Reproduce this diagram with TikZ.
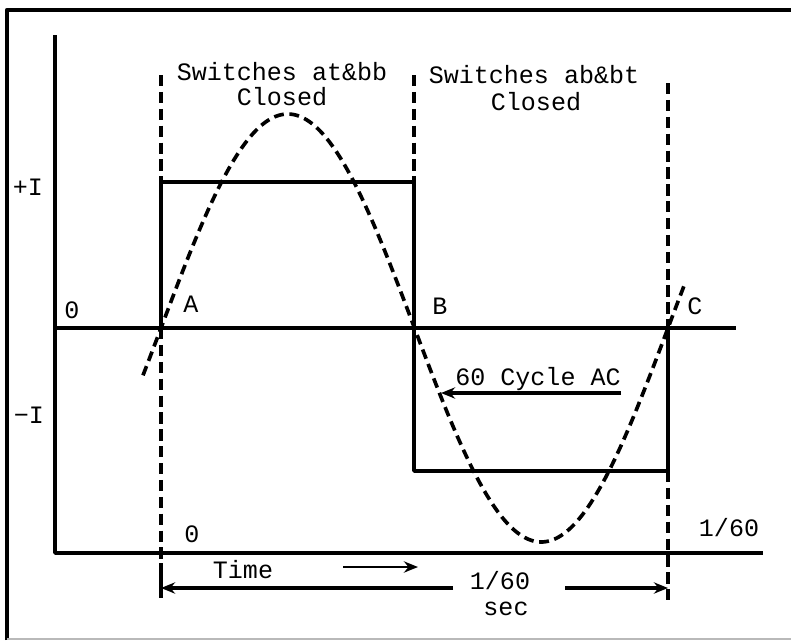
\documentclass[tikz,border=0pt]{standalone}
\usepackage{fontspec}
\setmonofont{Liberation Mono}
\usetikzlibrary{arrows.meta}
\begin{document}
\begin{tikzpicture}[
    x=0.025cm, y=-0.025cm, line join=round,
    axis/.style={line width=2.7pt},
    wave/.style={line width=2.7pt},
    guide/.style={line width=2.6pt, dash pattern=on 8pt off 4pt},
    sine/.style={line width=2.6pt, dash pattern=on 7pt off 4pt},
    lbl/.style={font=\ttfamily\fontsize{17.8}{20}\selectfont, inner sep=0pt, anchor=base},
    arr/.style={line width=2.4pt, -{Stealth[length=10pt, width=8pt]}}]
  \useasboundingbox (0,0) rectangle (791,640);
  % Marco
  \draw[line width=3pt] (7,640) -- (7,10) -- (791,10);
  \draw[gray!55, line width=0.8pt] (7,639) -- (791,639);
  % Puntos de cruce
  \coordinate (A) at (161,328);
  \coordinate (B) at (414,328);
  \coordinate (C) at (668,328);
  \coordinate (hiA) at (161,182);
  \coordinate (hiB) at (414,182);
  \coordinate (loB) at (414,471);
  \coordinate (loC) at (668,471);
  % Lineas guia (conmutacion)
  \draw[guide] (161,75) -- (161,598);
  \draw[guide] (414,75) -- (hiB);
  \draw[guide] (668,83) -- (668,600);
  % Ejes
  \coordinate (ytop) at (55,35);
  \coordinate (orig) at (55,553);
  \coordinate (xend) at (763,553);
  \draw[axis] (ytop) -- (orig) -- (xend);
  \draw[axis] (55,328) -- (736,328);
  % Onda cuadrada
  \draw[wave] (A) -- (hiA) -- (hiB) -- (loB) -- (loC) -- (C);
  % Onda senoidal (60 Hz)
  \draw[sine] plot[domain=143:684, samples=120, smooth]
    (\x, {328-214*sin((\x-161)/507*360)});
  % Flechas
  \coordinate (cyc-tail) at (621,393);
  \coordinate (cyc-tip) at (441,393);
  \draw[arr] (cyc-tail) -- (cyc-tip);
  \coordinate (time-tail) at (343,567);
  \coordinate (time-tip) at (418,567);
  \draw[arr, line width=2pt] (time-tail) -- (time-tip);
  \coordinate (dimL) at (161,588);
  \coordinate (dimR) at (668,588);
  \draw[line width=3pt] (161,563) -- (161,598);
  \draw[arr] (453,588) -- (dimL);
  \draw[arr] (565,588) -- (dimR);
  % Textos
  \node[lbl] (sw1) at (282,80) {Switches at\&bb};
  \node[lbl] (cl1) at (282,105) {Closed};
  \node[lbl] (sw2) at (534,83) {Switches ab\&bt};
  \node[lbl] (cl2) at (536,110) {Closed};
  \node[lbl] (plusI) at (28,195) {+I};
  \node[lbl] (minusI) at (29,423) {−I};
  \node[lbl] (zeroL) at (72,318) {0};
  \node[lbl] (labA) at (191,312) {A};
  \node[lbl] (labB) at (440,314) {B};
  \node[lbl] (labC) at (695,314) {C};
  \node[lbl] (zeroB) at (192,542) {0};
  \node[lbl] (period) at (729,536) {1/60};
  \node[lbl] (cycle) at (538,385) {60 Cycle AC};
  \node[lbl] (time) at (243,578) {Time};
  \node[lbl] (dimtxt) at (500,589) {1/60};
  \node[lbl] (sec) at (506,615) {sec};
\end{tikzpicture}
\end{document}
